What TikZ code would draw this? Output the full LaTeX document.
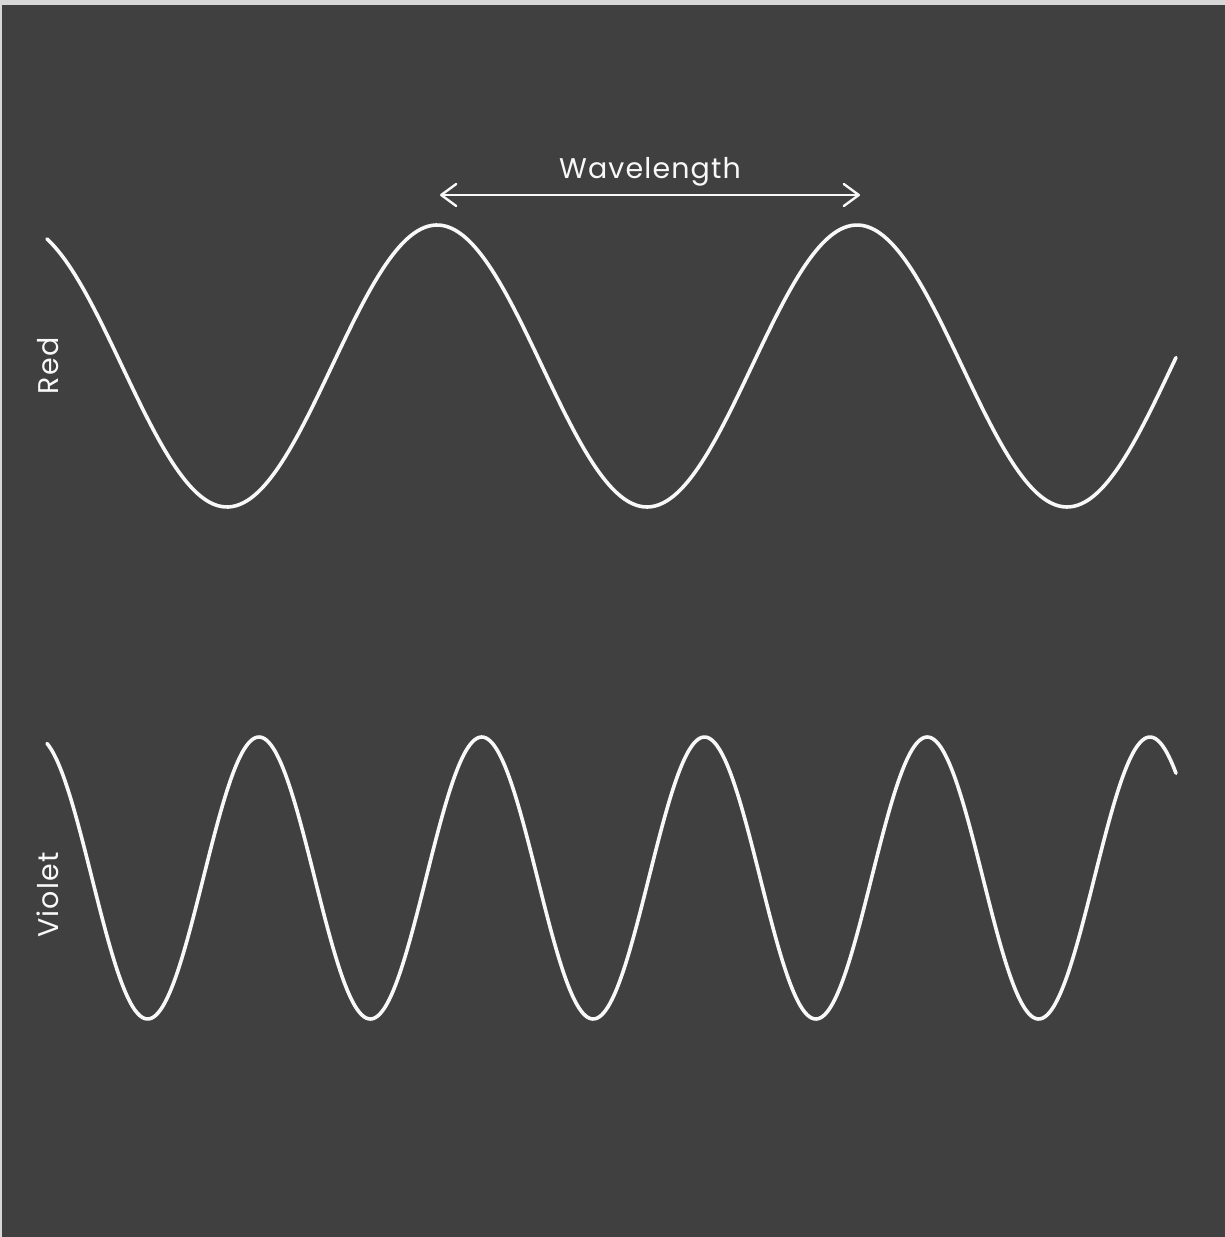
\documentclass[tikz,border=0pt]{standalone}
\usepackage{fontspec}
\setmainfont{Poppins}[LetterSpace=4]
\usetikzlibrary{arrows.meta}
\definecolor{bg}{HTML}{404040}
\definecolor{edge}{HTML}{D8D8D8}
\definecolor{ink}{HTML}{F8F8F8}
\tikzset{
  wave/.style={draw=ink, line width=3.6pt, line cap=round, smooth},
  label/.style={text=ink, font=\fontsize{28.5}{34}\selectfont, inner sep=0pt},
  sidelabel/.style={label, rotate=90},
  span/.style={draw=ink, line width=2.4pt, line cap=round,
    {Straight Barb[length=15pt,width=22pt,line cap=round,line join=round]}-{Straight Barb[length=15pt,width=22pt,line cap=round,line join=round]}}
}
\begin{document}
\begin{tikzpicture}[x=1pt,y=-1pt]
\useasboundingbox (0,0) rectangle (1225,1237);
\fill[edge] (0,0) rectangle (1225,1237);
\fill[bg] (2,5) rectangle (1225,1237);
% red wave
\draw[wave] plot[domain=47:1176, samples=300] (\x, {366-141*cos(0.857143*(\x-437))});
% violet wave
\draw[wave] plot[domain=47:1176, samples=500] (\x, {878-141*cos(1.616162*(\x-259))});
% wavelength marker
\coordinate (wlL) at (440,195);
\coordinate (wlR) at (860,195);
\draw[span] (wlL) -- (wlR);
\node[label] (wl) at (650,172) {Wavelength};
\node[sidelabel] (red) at (48,366) {Red};
\node[sidelabel] (violet) at (48,895) {Violet};
\end{tikzpicture}
\end{document}
